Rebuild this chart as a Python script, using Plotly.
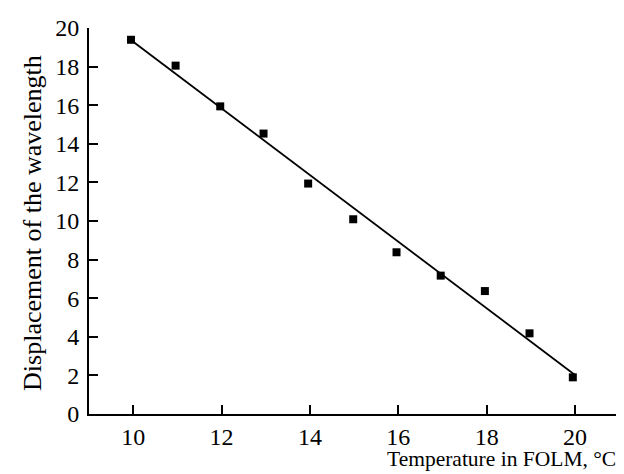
import numpy as np
import plotly.graph_objects as go

temperature = [9.95, 10.96, 11.97, 12.95, 13.96, 14.98, 15.96, 16.96, 17.96, 18.97, 19.95]
displacement = [19.39, 18.05, 15.94, 14.53, 11.94, 10.09, 8.38, 7.17, 6.37, 4.18, 1.9]
x_ticks = [10, 12, 14, 16, 18, 20]
y_ticks = [0, 2, 4, 6, 8, 10, 12, 14, 16, 18, 20]

slope, intercept = np.polyfit(temperature, displacement, 1)
fit_x = np.array([10.0, 20.0])
fit_y = slope * fit_x + intercept

FONT = "Liberation Serif"

fig = go.Figure()
fig.add_trace(go.Scatter(x=fit_x, y=fit_y, mode="lines",
                         line=dict(color="black", width=1.8), showlegend=False))
fig.add_trace(go.Scatter(x=temperature, y=displacement, mode="markers",
                         marker=dict(symbol="square", size=8, color="black"),
                         showlegend=False))

fig.update_layout(
    width=616, height=466,
    margin=dict(l=81, r=7, t=12, b=60),
    plot_bgcolor="white", paper_bgcolor="white",
    font=dict(family=FONT, size=24, color="black"),
    xaxis=dict(range=[9.0, 20.95], tickvals=x_ticks, ticks="inside", ticklen=9,
               tickwidth=2, tickcolor="black", showline=True, linecolor="black",
               linewidth=2, showgrid=False, zeroline=False, ticklabelstandoff=0,
               ticklabeloverflow="allow",
               tickfont=dict(family=FONT, size=24)),
    yaxis=dict(range=[0, 20], tickvals=y_ticks, ticks="inside", ticklen=9,
               tickwidth=2, tickcolor="black", showline=True, linecolor="black",
               linewidth=2, showgrid=False, zeroline=False, ticklabelstandoff=3,
               ticklabeloverflow="allow",
               tickfont=dict(family=FONT, size=24)),
    annotations=[
        dict(text="Temperature in FOLM, °C", xref="paper", yref="paper",
             x=1.0, y=0, xanchor="right", yanchor="top", yshift=-31,
             xshift=1, showarrow=False, font=dict(family=FONT, size=21.5)),
        dict(text="Displacement of the wavelength", xref="paper", yref="paper",
             x=0, y=0.495, xanchor="center", yanchor="middle", xshift=-56,
             textangle=-90, showarrow=False, font=dict(family=FONT, size=26)),
    ],
)

fig.write_html("out.html")
